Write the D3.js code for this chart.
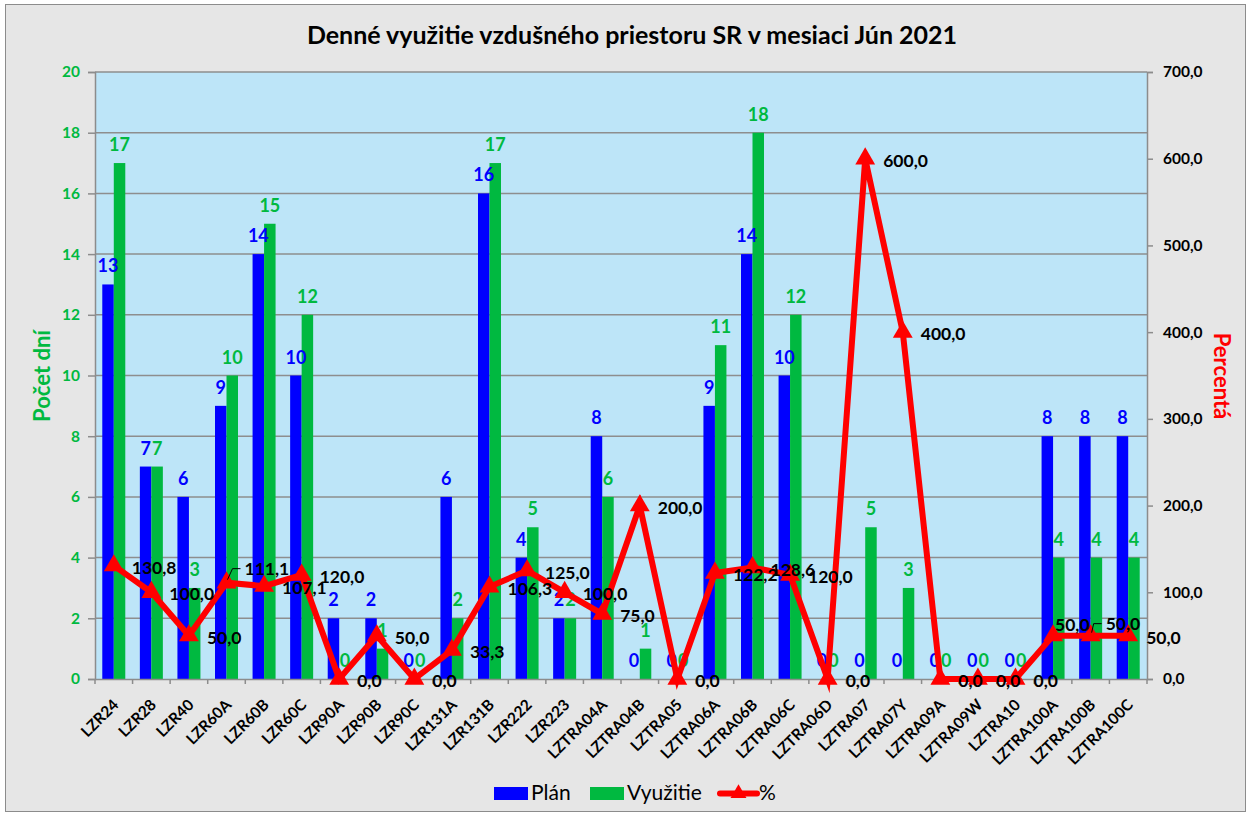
<!DOCTYPE html>
<html>
<head>
<meta charset="utf-8">
<script src="https://cdn.jsdelivr.net/npm/d3@7"></script>
<style>
  body { margin: 0; background: #fff; }
  svg { display: block; font-family: Lato, 'Open Sans', sans-serif; }
</style>
</head>
<body>
<svg id="chart"></svg>
<script>
const categories = ['LZR24', 'LZR28', 'LZR40', 'LZR60A', 'LZR60B', 'LZR60C', 'LZR90A', 'LZR90B', 'LZR90C',
  'LZR131A', 'LZR131B', 'LZR222', 'LZR223', 'LZTRA04A', 'LZTRA04B', 'LZTRA05', 'LZTRA06A', 'LZTRA06B',
  'LZTRA06C', 'LZTRA06D', 'LZTRA07', 'LZTRA07Y', 'LZTRA09A', 'LZTRA09W', 'LZTRA10', 'LZTRA100A',
  'LZTRA100B', 'LZTRA100C']
const plan = [13, 7, 6, 9, 14, 10, 2, 2, 0, 6, 16, 4, 2, 8, 0, 0, 9, 14, 10, 0, 0, 0, 0, 0, 0, 8, 8, 8]
const vyuzitie = [17, 7, 3, 10, 15, 12, 0, 1, 0, 2, 17, 5, 2, 6, 1, 0, 11, 18, 12, 0, 5, 3, 0, 0, 0, 4, 4, 4]
const percent = [130.8, 100, 50, 111.1, 107.1, 120, 0, 50, 0, 33.3, 106.3, 125, 100, 75, 200, 0, 122.2,
  128.6, 120, 0, 600, 400, 0, 0, 0, 50, 50, 50]
const leftTicks = [0, 2, 4, 6, 8, 10, 12, 14, 16, 18, 20]
const rightTicks = [0, 100, 200, 300, 400, 500, 600, 700]

const width = 1251
const height = 816
const plotLeft = 95, plotRight = 1147, plotTop = 72, plotBottom = 679
const blue = '#0000ff', green = '#00b940', red = '#ff0000'

// manually moved % labels (like in the original sheet)
const labelShift = {
  LZR60A: { dx: 0, dy: -16, leader: true },
  LZTRA100A: { dx: -16, dy: -13 },
  LZTRA100B: { dx: -3, dy: -14, leader: true }
}

const fmt = d => d.toFixed(1).replace('.', ',')

const svg = d3.select('#chart')
  .attr('width', width)
  .attr('height', height)
  .attr('viewBox', [0, 0, width, height])

svg.append('rect')
  .attr('x', 5.5).attr('y', 4.5)
  .attr('width', 1240).attr('height', 807)
  .attr('fill', '#e6e6e6')
  .attr('stroke', '#8c8c8c')

svg.append('rect')
  .attr('x', plotLeft).attr('y', plotTop)
  .attr('width', plotRight - plotLeft).attr('height', plotBottom - plotTop)
  .attr('fill', '#bde5f8')

const x = d3.scaleBand().domain(categories).range([plotLeft, plotRight]).padding(0)
const bw = x.bandwidth()
const xs = d3.scaleBand().domain(['plan', 'vyuz']).range([bw / 2 - 11.5, bw / 2 + 11.5])
const yL = d3.scaleLinear().domain([0, 20]).range([plotBottom, plotTop])
const yR = d3.scaleLinear().domain([0, 700]).range([plotBottom, plotTop])

// gridlines
svg.append('g')
  .selectAll('line')
  .data(leftTicks.slice(1))
  .join('line')
    .attr('x1', plotLeft).attr('x2', plotRight)
    .attr('y1', d => yL(d)).attr('y2', d => yL(d))
    .attr('stroke', '#8e8e8e')
    .attr('stroke-width', 1.5)

// bars
const series = [
  { key: 'plan', values: plan, color: blue },
  { key: 'vyuz', values: vyuzitie, color: green }
]
for (const s of series) {
  svg.append('g')
    .selectAll('rect')
    .data(s.values)
    .join('rect')
      .attr('x', (d, i) => x(categories[i]) + xs(s.key))
      .attr('y', d => yL(d))
      .attr('width', xs.bandwidth())
      .attr('height', d => yL(0) - yL(d))
      .attr('fill', s.color)
}

// axes
svg.append('g')
  .attr('transform', `translate(${plotLeft},0)`)
  .call(d3.axisLeft(yL).tickValues(leftTicks).tickSize(7).tickPadding(8))
  .call(g => g.selectAll('.domain, .tick line').attr('stroke', '#8c8c8c').attr('stroke-width', 1.5))
  .call(g => g.selectAll('text')
    .attr('fill', green).attr('font-size', 15.5).attr('font-weight', 'bold')
    .attr('font-family', 'Lato, sans-serif'))

svg.append('g')
  .attr('transform', `translate(${plotRight},0)`)
  .call(d3.axisRight(yR).tickValues(rightTicks).tickSize(6).tickPadding(10).tickFormat(fmt))
  .call(g => g.selectAll('.domain, .tick line').attr('stroke', '#8c8c8c').attr('stroke-width', 1.5))
  .call(g => g.selectAll('text')
    .attr('fill', '#000').attr('font-size', 15.5).attr('font-weight', 'bold')
    .attr('font-family', 'Lato, sans-serif'))

const xAxis = svg.append('g')
  .attr('transform', `translate(0,${plotBottom})`)
  .call(d3.axisBottom(x).tickSize(0).tickSizeOuter(0))
xAxis.select('.domain').attr('stroke', '#8c8c8c').attr('stroke-width', 1.5)
xAxis.selectAll('.tick text')
  .attr('font-size', 15.5).attr('font-weight', 'bold').attr('fill', '#000')
  .attr('font-family', 'Lato, sans-serif')
  .attr('text-anchor', 'end')
  .attr('dy', '0.35em')
  .attr('y', 0)
  .attr('transform', 'translate(2,23) rotate(-45)')
xAxis.selectAll('.sep')
  .data([categories[0]].concat(categories))
  .join('line')
    .attr('class', 'sep')
    .attr('x1', (d, i) => i === 0 ? plotLeft : x(d) + bw)
    .attr('x2', (d, i) => i === 0 ? plotLeft : x(d) + bw)
    .attr('y1', 0).attr('y2', 5)
    .attr('stroke', '#8c8c8c').attr('stroke-width', 1.5)

// bar labels
for (const s of series) {
  svg.append('g')
    .selectAll('text')
    .data(s.values)
    .join('text')
      .attr('x', (d, i) => x(categories[i]) + xs(s.key) + xs.bandwidth() / 2)
      .attr('y', d => yL(d) - 12)
      .attr('text-anchor', 'middle')
      .attr('font-size', 18)
      .attr('font-weight', 'bold')
      .attr('fill', s.color)
      .text(d => d)
}

// % line
const cx = i => x(categories[i]) + bw / 2
const line = d3.line()
  .x((d, i) => cx(i))
  .y(d => yR(d))
svg.append('path')
  .attr('d', line(percent))
  .attr('fill', 'none')
  .attr('stroke', red)
  .attr('stroke-width', 6)
  .attr('stroke-linejoin', 'miter')
  .attr('stroke-miterlimit', 6)

const tri = d3.symbol(d3.symbolTriangle, 170)
svg.append('g')
  .selectAll('path')
  .data(percent)
  .join('path')
    .attr('transform', (d, i) => `translate(${cx(i)},${yR(d)})`)
    .attr('d', tri)
    .attr('fill', red)

// % labels
const pl = svg.append('g')
percent.forEach((d, i) => {
  const sh = labelShift[categories[i]] || { dx: 0, dy: 0 }
  const lx = cx(i) + 18 + sh.dx
  const ly = yR(d) + 2 + sh.dy
  pl.append('text')
    .attr('x', lx).attr('y', ly)
    .attr('dy', '0.35em')
    .attr('font-size', 17.5).attr('font-weight', 'bold').attr('fill', '#000')
    .text(fmt(d))
  if (sh.leader) {
    pl.append('path')
      .attr('d', `M${cx(i) + 1},${yR(d) - 3}L${lx - 12},${ly}L${lx - 4},${ly}`)
      .attr('fill', 'none').attr('stroke', '#000').attr('stroke-width', 1)
  }
})

// titles
svg.append('text')
  .attr('x', 632).attr('y', 44)
  .attr('text-anchor', 'middle')
  .attr('font-size', 25).attr('font-weight', 'bold')
  .text('Denné využitie vzdušného priestoru SR v mesiaci Jún 2021')

svg.append('text')
  .attr('transform', 'translate(50,376) rotate(-90)')
  .attr('text-anchor', 'middle')
  .attr('font-size', 22).attr('font-weight', 'bold').attr('fill', green)
  .text('Počet dní')

svg.append('text')
  .attr('transform', 'translate(1214,376) rotate(90)')
  .attr('text-anchor', 'middle')
  .attr('font-size', 22).attr('font-weight', 'bold').attr('fill', red)
  .text('Percentá')

// legend
const legend = svg.append('g').attr('font-size', 21)
legend.append('rect').attr('x', 494).attr('y', 787).attr('width', 34).attr('height', 13).attr('fill', blue)
legend.append('text').attr('x', 531).attr('y', 800).text('Plán')
legend.append('rect').attr('x', 590).attr('y', 787).attr('width', 34).attr('height', 13).attr('fill', green)
legend.append('text').attr('x', 627).attr('y', 800).text('Využitie')
legend.append('line').attr('x1', 720).attr('x2', 757).attr('y1', 793.5).attr('y2', 793.5)
  .attr('stroke', red).attr('stroke-width', 6).attr('stroke-linecap', 'round')
legend.append('path').attr('transform', 'translate(738.5,793.5)').attr('d', d3.symbol(d3.symbolTriangle, 110)).attr('fill', red)
legend.append('text').attr('x', 759).attr('y', 800).text('%')
</script>
</body>
</html>
